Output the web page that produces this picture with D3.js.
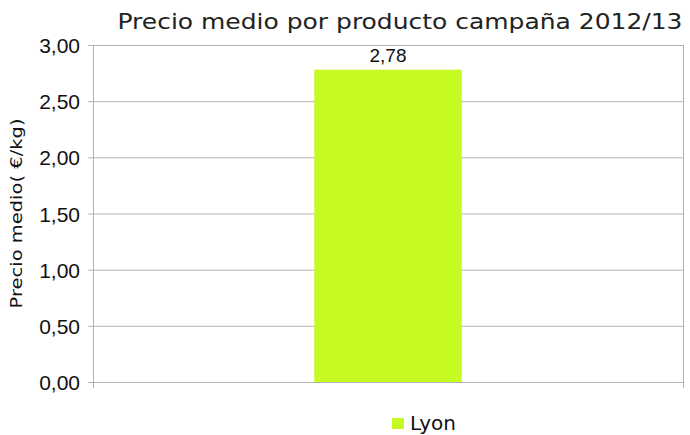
<!DOCTYPE html>
<html>
<head>
<meta charset="utf-8">
<script src="https://cdn.jsdelivr.net/npm/d3@7"></script>
<style>
  body { margin: 0; background: #fff; }
  text { font-family: "Liberation Sans", Arial, sans-serif; fill: #111; }
  .gothic { font-family: "DejaVu Sans", sans-serif; }
</style>
</head>
<body>
<div id="chart"></div>
<script>
// datos
var categorias = ['Lyon'];
var precios = [2.78];
var ticksY = [0, 0.5, 1, 1.5, 2, 2.5, 3];

var width = 690, height = 435;
var margin = {top: 45, right: 7, bottom: 53, left: 93};

var svg = d3.select('#chart').append('svg')
        .attr('width', width)
        .attr('height', height);

var x = d3.scaleBand()
        .domain(categorias)
        .range([margin.left, width - margin.right])
        .paddingInner(0)
        .paddingOuter(0);

var y = d3.scaleLinear()
        .domain([0, 3])
        .range([height - margin.bottom, margin.top]);

var fmt = function(v) { return d3.format('.2f')(v).replace('.', ','); };

// lineas de rejilla
svg.append('g')
        .selectAll('line')
        .data(ticksY)
        .enter()
        .append('line')
        .attr('x1', margin.left - 5)
        .attr('x2', width - margin.right)
        .attr('y1', d => y(d) + 0.5)
        .attr('y2', d => y(d) + 0.5)
        .style('stroke', '#b3b3b3')
        .style('stroke-width', 1);

// eje y
var ejeY = svg.append('g')
        .attr('transform', 'translate(' + margin.left + ',0)')
        .call(d3.axisLeft(y).tickValues(ticksY).tickFormat(fmt).tickSize(0).tickPadding(13));
ejeY.select('.domain').remove();
ejeY.selectAll('text')
        .style('font-size', '21px')
        .attr('dy', '0.36em');

// lineas verticales del eje x
var bordes = [margin.left, width - margin.right];
svg.append('g')
        .selectAll('line')
        .data(bordes)
        .enter()
        .append('line')
        .attr('x1', d => d + 0.5)
        .attr('x2', d => d + 0.5)
        .attr('y1', margin.top)
        .attr('y2', height - margin.bottom + 6)
        .style('stroke', '#b3b3b3');

// barras
var bw = x.bandwidth() * 0.25;
svg.append('g')
        .selectAll('rect')
        .data(precios)
        .enter()
        .append('rect')
        .attr('x', (d, i) => x(categorias[i]) + x.bandwidth() / 2 - bw / 2)
        .attr('width', bw)
        .attr('y', d => y(d))
        .attr('height', d => y(0) - y(d))
        .style('fill', '#c5fb22');

// etiquetas de valor
svg.append('g')
        .selectAll('text')
        .data(precios)
        .enter()
        .append('text')
        .attr('x', (d, i) => x(categorias[i]) + x.bandwidth() / 2)
        .attr('y', d => y(d) - 8)
        .attr('text-anchor', 'middle')
        .style('font-size', '19px')
        .text(d => fmt(d));

// titulo
svg.append('text')
        .attr('class', 'gothic')
        .attr('x', 400)
        .attr('y', 29)
        .attr('text-anchor', 'middle')
        .attr('textLength', 565)
        .attr('lengthAdjust', 'spacingAndGlyphs')
        .style('font-size', '22px')
        .style('fill', '#222')
        .text('Precio medio por producto campaña 2012/13');

// titulo del eje y
svg.append('text')
        .attr('class', 'gothic')
        .attr('transform', 'translate(22,' + y(1.5) + ') rotate(-90)')
        .attr('text-anchor', 'middle')
        .attr('textLength', 190)
        .attr('lengthAdjust', 'spacingAndGlyphs')
        .style('font-size', '16px')
        .text('Precio medio( €/kg)');

// leyenda
var ley = svg.append('g')
        .attr('transform', 'translate(392,418)');
ley.selectAll('rect')
        .data(categorias)
        .enter()
        .append('rect')
        .attr('width', 12)
        .attr('height', 11)
        .style('fill', '#c5fb22');
ley.selectAll('text')
        .data(categorias)
        .enter()
        .append('text')
        .attr('class', 'gothic')
        .attr('x', 18)
        .attr('y', 12)
        .attr('textLength', 46)
        .attr('lengthAdjust', 'spacingAndGlyphs')
        .style('font-size', '20px')
        .text(d => d);
</script>
</body>
</html>
